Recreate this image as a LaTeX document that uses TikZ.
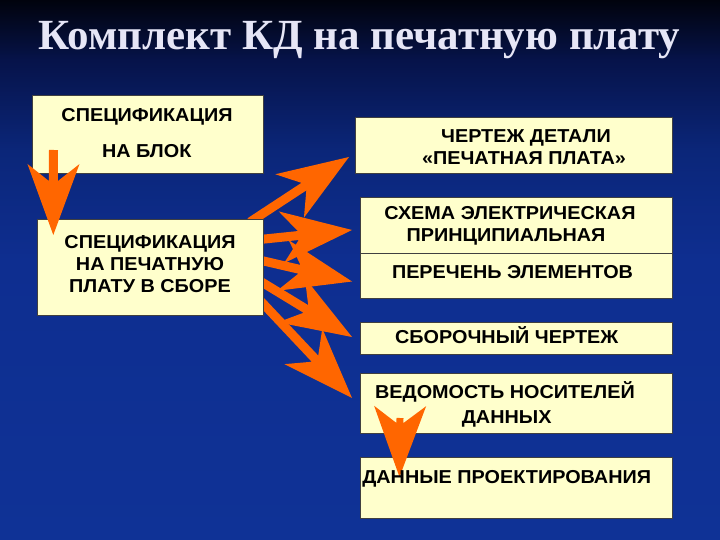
\documentclass[tikz,border=0pt]{standalone}
\usepackage{fontspec}
\setmainfont{Liberation Sans}[FakeStretch=1.06]
\newfontfamily\titlefont{Liberation Serif}
\usetikzlibrary{calc}
\definecolor{cream}{HTML}{FFFFCC}
\definecolor{arroworange}{HTML}{FF6600}
\definecolor{titlecol}{HTML}{E6E6F6}
\definecolor{bgA}{HTML}{01030D}
\definecolor{bgB}{HTML}{06134A}
\definecolor{bgC}{HTML}{0B2679}
\definecolor{bgD}{HTML}{0E2E90}
\definecolor{bgE}{HTML}{0F3296}
\pgfdeclareverticalshading{bgshade}{100bp}{color(0bp)=(bgE); color(25bp)=(bgE); color(50.9bp)=(bgD); color(61.1bp)=(bgC); color(69.4bp)=(bgB); color(75bp)=(bgA); color(100bp)=(bgA)}
\newcommand{\orangearrow}[3][4.5pt]{%
  \coordinate (#2-m) at ($(#3)!54pt!(#2)$);
  \coordinate (#2-w) at ($(#3)!71pt!(#2)$);
  \fill[arrowfill] ($(#2)!#1!90:(#3)$) -- ($(#2-m)!#1!90:(#3)$) -- ($(#2-w)!26pt!90:(#3)$) -- (#3) -- ($(#2-w)!26pt!-90:(#3)$) -- ($(#2-m)!#1!-90:(#3)$) -- ($(#2)!#1!-90:(#3)$) -- cycle;
}
\begin{document}
\begin{tikzpicture}[x=1pt,y=-1pt,
  box/.style={draw=black!75, line width=0.6pt, fill=cream, inner sep=0pt, anchor=north west},
  lbl/.style={font=\fontsize{18.7}{22}\selectfont\bfseries, text=black, inner sep=0pt, anchor=base},
  arrowfill/.style={fill=arroworange},
]
\useasboundingbox (0,0) rectangle (720,540);
\shade[shading=bgshade] (0,0) rectangle (720,540);

\node[font=\titlefont\bfseries\fontsize{43}{48}\selectfont, text=titlecol, inner sep=0pt, anchor=base] (title) at (359.5,49.5) {Комплект КД на печатную плату};

% arrow end points
\coordinate (a1s) at (53.5,150);  \coordinate (a1t) at (53.3,235);
\coordinate (fas) at (250,222);   \coordinate (fat) at (349,157);
\coordinate (fbs) at (255,240);   \coordinate (fbt) at (352,230);
\coordinate (fcs) at (255,259);   \coordinate (fct) at (352,281.5);
\coordinate (fds) at (255,278);   \coordinate (fdt) at (352,337);
\coordinate (fes) at (255,295);   \coordinate (fet) at (352,398);
\coordinate (gs) at (400,418);    \coordinate (gt) at (399.5,477);

% fan arrows
\orangearrow{fas}{fat}
\orangearrow{fbs}{fbt}
\orangearrow{fcs}{fct}
\orangearrow{fds}{fdt}
\orangearrow{fes}{fet}

% boxes
\node[box, minimum width=231.6pt, minimum height=77.7pt] (boxA) at (31.7,95) {};
\node[box, minimum width=226.6pt, minimum height=95.7pt] (boxB) at (36.7,219.3) {};
\node[box, minimum width=316.7pt, minimum height=56.6pt] (boxC) at (355,116.7) {};
\node[box, minimum width=311.7pt, minimum height=56.6pt] (boxD) at (360,196.7) {};
\node[box, minimum width=311.7pt, minimum height=45pt] (boxE) at (360,253.3) {};
\node[box, minimum width=311.7pt, minimum height=32.6pt] (boxF) at (360,321.7) {};
\node[box, minimum width=311.7pt, minimum height=60.6pt] (boxG) at (360,372.7) {};
\node[box, minimum width=311.7pt, minimum height=61pt] (boxH) at (360,457.3) {};

% vertical arrows
\orangearrow{a1s}{a1t}
\orangearrow[3.5pt]{gs}{gt}

% texts
\node[lbl] (tA1) at (147,121.8) {СПЕЦИФИКАЦИЯ};
\node[lbl] (tA2) at (146.7,157.1) {НА БЛОК};
\node[lbl] (tB1) at (150,248) {СПЕЦИФИКАЦИЯ};
\node[lbl] (tB2) at (150,270.3) {НА ПЕЧАТНУЮ};
\node[lbl] (tB3) at (150,292.6) {ПЛАТУ В СБОРЕ};
\node[lbl] (tC1) at (526,142.1) {ЧЕРТЕЖ ДЕТАЛИ};
\node[lbl] (tC2) at (524,164.6) {«ПЕЧАТНАЯ ПЛАТА»};
\node[lbl] (tD1) at (510,219.6) {СХЕМА ЭЛЕКТРИЧЕСКАЯ};
\node[lbl] (tD2) at (506,241.3) {ПРИНЦИПИАЛЬНАЯ};
\node[lbl] (tE) at (512.5,278) {ПЕРЕЧЕНЬ ЭЛЕМЕНТОВ};
\node[lbl] (tF) at (506.7,343) {СБОРОЧНЫЙ ЧЕРТЕЖ};
\node[lbl] (tG1) at (505,398.8) {ВЕДОМОСТЬ НОСИТЕЛЕЙ};
\node[lbl] (tG2) at (506.7,423.8) {ДАННЫХ};
\node[lbl] (tH) at (506.7,483.8) {ДАННЫЕ ПРОЕКТИРОВАНИЯ};
\end{tikzpicture}
\end{document}
